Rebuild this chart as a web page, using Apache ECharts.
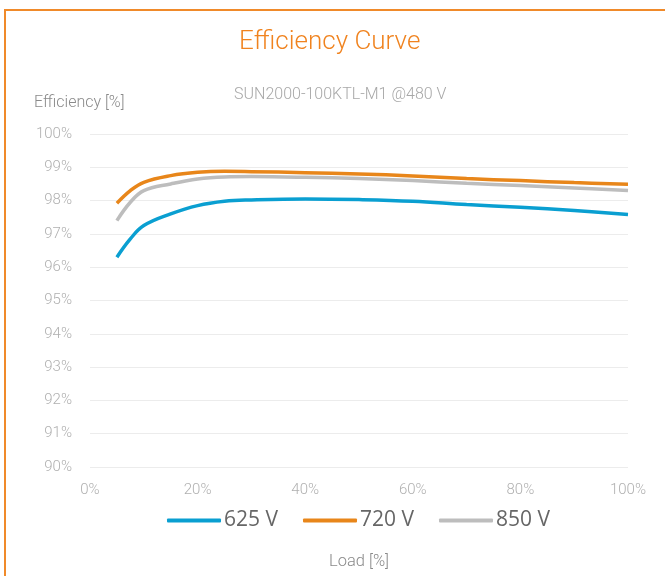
<!DOCTYPE html>
<html>
<head>
<meta charset="utf-8">
<script src="https://cdn.jsdelivr.net/npm/echarts@6/dist/echarts.min.js"></script>
<style>html,body{margin:0;padding:0;background:#fff}#c{width:665px;height:576px}</style>
</head>
<body>
<div id="c"></div>
<script>
const loads = [5, 7.5, 10, 15, 20, 25, 30, 40, 50, 60, 70, 80, 90, 100];
const v625 = [96.3, 96.85, 97.25, 97.6, 97.85, 97.98, 98.02, 98.05, 98.03, 97.98, 97.88, 97.8, 97.7, 97.58];
const v720 = [97.92, 98.3, 98.55, 98.75, 98.85, 98.88, 98.87, 98.84, 98.8, 98.74, 98.66, 98.6, 98.54, 98.49];
const v850 = [97.4, 97.95, 98.3, 98.5, 98.65, 98.71, 98.72, 98.7, 98.66, 98.6, 98.52, 98.45, 98.38, 98.3];
const seriesNames = ['625 V', '720 V', '850 V'];
const colors = ['#0a9fd1', '#e8861a', '#bdbdbd'];

const font = 'Roboto';
function pairs(vals){ return loads.map((x,i)=>[x, vals[i]]); }
const allVals = [v625, v720, v850];

const chart = echarts.init(document.getElementById('c'), null, {renderer:'canvas'});
chart.setOption({
  animation:false,
  backgroundColor:'#fff',
  title:[
    {text:'Efficiency Curve', left:234, top:24, textStyle:{color:'#f0831f', fontSize:26, fontWeight:300, fontFamily:font}},
    {text:'SUN2000-100KTL-M1 @480 V', left:229, top:82, textStyle:{color:'#a8a8a8', fontSize:16, fontWeight:300, fontFamily:font}}
  ],
  graphic:[
    {type:'rect', shape:{x:5, y:10, width:700, height:700}, style:{fill:'none', stroke:'#f08a2a', lineWidth:2}},
    {type:'text', left:34, top:95, style:{text:'Efficiency [%]', fill:'#8a8a8a', fontSize:16, fontWeight:300, fontFamily:font}}
  ],
  grid:{left:90, right:37, top:134, bottom:109, containLabel:false},
  legend:{
    data:seriesNames, left:162, top:505, itemWidth:54, itemHeight:4, itemGap:25, icon:'roundRect',
    textStyle:{color:'#666', fontSize:21, fontFamily:'Open Sans', padding:[0,0,0,-2]}
  },
  xAxis:{
    type:'value', min:0, max:100, interval:20,
    name:'Load [%]', nameLocation:'middle', nameGap:86,
    nameTextStyle:{color:'#8a8a8a', fontSize:16.5, fontWeight:300, fontFamily:font},
    axisLine:{show:false}, axisTick:{show:false}, splitLine:{show:false},
    axisLabel:{formatter:'{value}%', color:'#b0b0b0', fontSize:15, fontWeight:300, fontFamily:font, margin:16}
  },
  yAxis:{
    type:'value', min:90, max:100, interval:1,
    axisLine:{show:false}, axisTick:{show:false},
    splitLine:{lineStyle:{color:'#ececec', width:1}},
    axisLabel:{formatter:'{value}%', color:'#b0b0b0', fontSize:15, fontWeight:300, fontFamily:font, margin:18}
  },
  series: seriesNames.map((n,i)=>({
    name:n, type:'line', smooth:0.4, showSymbol:false, symbol:'none',
    data:pairs(allVals[i]), lineStyle:{color:colors[i], width:3.5}, itemStyle:{color:colors[i]}
  }))
});
</script>
</body>
</html>
